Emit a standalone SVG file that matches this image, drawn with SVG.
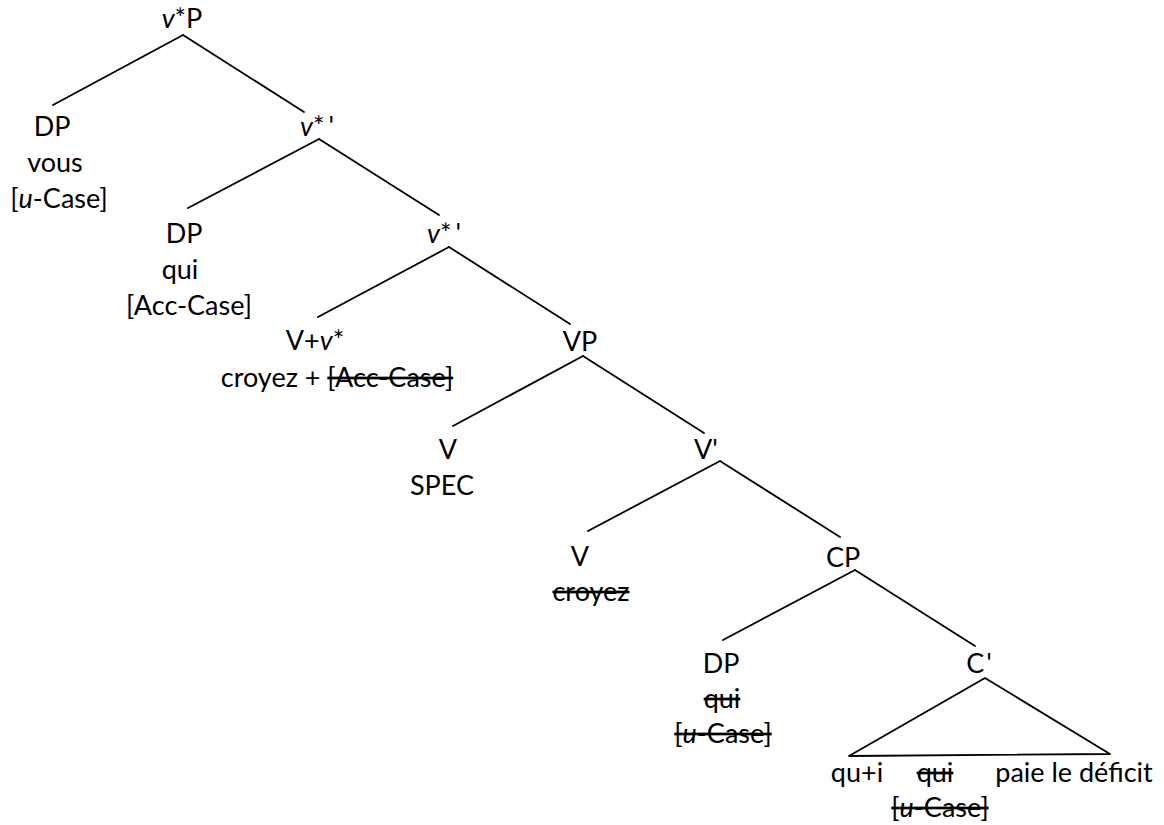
<svg xmlns="http://www.w3.org/2000/svg" width="1164" height="825" viewBox="0 0 1164 825">
<style>
text{font-family:Lato,"Liberation Sans",sans-serif;font-size:27px;fill:#000;text-anchor:middle}
.i{font-style:italic}
.s{text-decoration:line-through}
.e{stroke:#000;stroke-width:1.8;fill:none;stroke-linecap:round;stroke-linejoin:round}
</style>
<rect width="1164" height="825" fill="#fff"/>
<g id="connectors">
<line class="e" x1="183" y1="35" x2="53" y2="105"/>
<line class="e" x1="183" y1="35" x2="304" y2="112"/>
<line class="e" x1="319" y1="139" x2="188" y2="208"/>
<line class="e" x1="319" y1="139" x2="439" y2="215"/>
<line class="e" x1="449" y1="247" x2="318" y2="317"/>
<line class="e" x1="449" y1="247" x2="570" y2="324"/>
<line class="e" x1="583" y1="356" x2="453" y2="426"/>
<line class="e" x1="583" y1="356" x2="704" y2="433"/>
<line class="e" x1="720" y1="461" x2="588" y2="531"/>
<line class="e" x1="720" y1="461" x2="840" y2="537"/>
<line class="e" x1="855" y1="570" x2="723" y2="640"/>
<line class="e" x1="855" y1="570" x2="975" y2="646"/>
<polygon class="e" points="985,678 849,756 1110,754"/>
</g>
<g id="n-vP"><text x="182" y="28"><tspan class="i">v</tspan>*P</text></g>
<g id="n-DP1"><text x="52" y="136">DP</text><text x="55" y="172">vous</text><text x="59" y="208">[<tspan class="i">u</tspan>-Case]</text></g>
<g id="n-vbar1"><text x="317" y="136"><tspan class="i">v</tspan>*<tspan dx="4">'</tspan></text></g>
<g id="n-DP2"><text x="184" y="243">DP</text><text x="180" y="279">qui</text><text x="189" y="315">[Acc-Case]</text></g>
<g id="n-vbar2"><text x="444" y="243"><tspan class="i">v</tspan>*<tspan dx="4">'</tspan></text></g>
<g id="n-Vv"><text x="315" y="350">V+<tspan class="i">v</tspan>*</text><text x="337" y="387">croyez + <tspan class="s">[Acc-Case]</tspan></text></g>
<g id="n-VP"><text x="580" y="351">VP</text></g>
<g id="n-V1"><text x="448" y="459">V</text><text x="442" y="495">SPEC</text></g>
<g id="n-Vbar"><text x="706" y="459">V'</text></g>
<g id="n-V2"><text x="580" y="566">V</text><text x="591" y="601" class="s">croyez</text></g>
<g id="n-CP"><text x="843" y="567">CP</text></g>
<g id="n-DP3"><text x="721" y="673">DP</text><text x="722" y="708" class="s">qui</text><text x="723" y="743" class="s">[<tspan class="i">u</tspan>-Case]</text></g>
<g id="n-Cbar"><text x="979" y="673">C<tspan dx="2">'</tspan></text></g>
<g id="n-clause"><text x="857" y="782">qu+i</text><text x="935" y="782" class="s">qui</text><text x="1074" y="782">paie le déficit</text><text x="940" y="817" class="s">[<tspan class="i">u</tspan>-Case]</text></g>
</svg>
